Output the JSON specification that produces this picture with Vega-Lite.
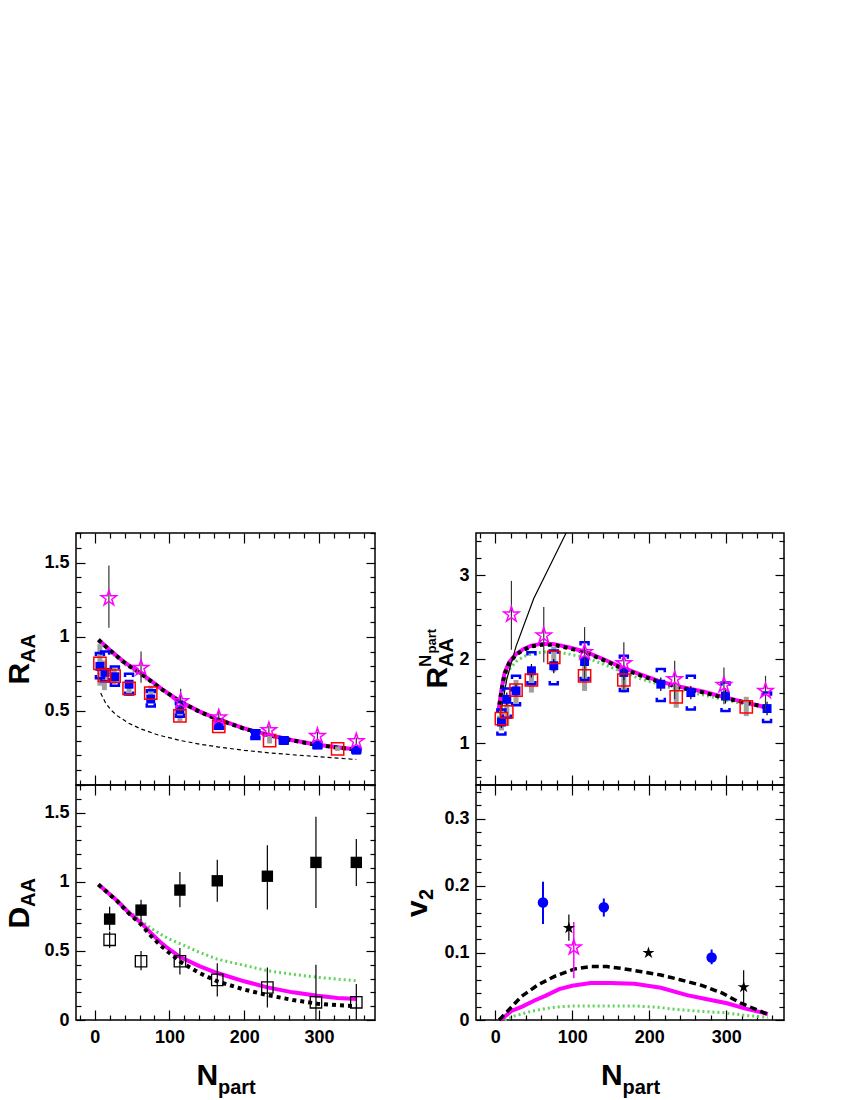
{
  "$schema": "https://vega.github.io/schema/vega-lite/v6.json",
  "padding": {"left": 3, "top": 523, "right": 10, "bottom": 0},
  "config": {
    "view": {"stroke": "#000000", "strokeWidth": 1.5},
    "axis": {
      "grid": false, "domain": false, "tickColor": "#000000", "tickWidth": 1.2,
      "labelFont": "Liberation Sans", "labelFontWeight": "bold", "labelFontSize": 18, "labelColor": "#000000",
      "titleFont": "Liberation Sans", "titleFontWeight": "bold", "titleColor": "#000000",
      "labelOverlap": false, "labelFlush": false, "labelBound": false
    },
    "text": {"font": "Liberation Sans"}
  },
  "datasets": {
    "a_curve": [
      {"s": "black", "n": 5, "v": 0.98}, {"s": "black", "n": 20, "v": 0.91}, {"s": "black", "n": 40, "v": 0.825}, {"s": "black", "n": 65, "v": 0.74}, {"s": "black", "n": 90, "v": 0.645}, {"s": "black", "n": 115, "v": 0.56}, {"s": "black", "n": 140, "v": 0.495}, {"s": "black", "n": 166, "v": 0.44}, {"s": "black", "n": 200, "v": 0.38}, {"s": "black", "n": 233, "v": 0.335}, {"s": "black", "n": 265, "v": 0.3}, {"s": "black", "n": 298, "v": 0.27}, {"s": "black", "n": 325, "v": 0.252}, {"s": "black", "n": 350, "v": 0.238},
      {"s": "magenta", "n": 5, "v": 0.98}, {"s": "magenta", "n": 20, "v": 0.912}, {"s": "magenta", "n": 40, "v": 0.827}, {"s": "magenta", "n": 65, "v": 0.742}, {"s": "magenta", "n": 90, "v": 0.647}, {"s": "magenta", "n": 115, "v": 0.562}, {"s": "magenta", "n": 140, "v": 0.497}, {"s": "magenta", "n": 166, "v": 0.442}, {"s": "magenta", "n": 200, "v": 0.382}, {"s": "magenta", "n": 233, "v": 0.337}, {"s": "magenta", "n": 265, "v": 0.302}, {"s": "magenta", "n": 298, "v": 0.272}, {"s": "magenta", "n": 325, "v": 0.254}, {"s": "magenta", "n": 350, "v": 0.24},
      {"s": "green", "n": 5, "v": 0.97}, {"s": "green", "n": 20, "v": 0.9}, {"s": "green", "n": 40, "v": 0.815}, {"s": "green", "n": 65, "v": 0.728}, {"s": "green", "n": 90, "v": 0.638}, {"s": "green", "n": 115, "v": 0.553}, {"s": "green", "n": 140, "v": 0.49}, {"s": "green", "n": 166, "v": 0.435}, {"s": "green", "n": 200, "v": 0.377}, {"s": "green", "n": 233, "v": 0.333}, {"s": "green", "n": 265, "v": 0.298}, {"s": "green", "n": 298, "v": 0.268}, {"s": "green", "n": 325, "v": 0.25}, {"s": "green", "n": 350, "v": 0.236},
      {"s": "thin", "n": 8, "v": 0.62}, {"s": "thin", "n": 15, "v": 0.55}, {"s": "thin", "n": 22, "v": 0.505}, {"s": "thin", "n": 30, "v": 0.468}, {"s": "thin", "n": 45, "v": 0.418}, {"s": "thin", "n": 62, "v": 0.378}, {"s": "thin", "n": 85, "v": 0.337}, {"s": "thin", "n": 115, "v": 0.3}, {"s": "thin", "n": 140, "v": 0.276}, {"s": "thin", "n": 166, "v": 0.256}, {"s": "thin", "n": 200, "v": 0.234}, {"s": "thin", "n": 233, "v": 0.217}, {"s": "thin", "n": 265, "v": 0.204}, {"s": "thin", "n": 298, "v": 0.192}, {"s": "thin", "n": 325, "v": 0.181}, {"s": "thin", "n": 350, "v": 0.172}
    ],
    "a_star": [
      {"n": 19, "v": 1.26, "lo": 1.06, "hi": 1.48}, {"n": 62, "v": 0.79, "lo": 0.69, "hi": 0.9}, {"n": 115, "v": 0.565, "lo": 0.49, "hi": 0.65}, {"n": 166, "v": 0.455, "lo": 0.41, "hi": 0.5}, {"n": 233, "v": 0.37, "lo": 0.34, "hi": 0.4}, {"n": 298, "v": 0.33, "lo": 0.3, "hi": 0.36}, {"n": 350, "v": 0.295, "lo": 0.27, "hi": 0.32}
    ],
    "a_red": [
      {"n": 7, "v": 0.82, "lo": 0.67, "hi": 0.95}, {"n": 13, "v": 0.74, "lo": 0.64, "hi": 0.84}, {"n": 26, "v": 0.735, "lo": 0.68, "hi": 0.79}, {"n": 46, "v": 0.652, "lo": 0.6, "hi": 0.7}, {"n": 75, "v": 0.62, "lo": 0.57, "hi": 0.67}, {"n": 114, "v": 0.466, "lo": 0.43, "hi": 0.5}, {"n": 166, "v": 0.395, "lo": 0.37, "hi": 0.42}, {"n": 234, "v": 0.3, "lo": 0.28, "hi": 0.33}, {"n": 325, "v": 0.243, "lo": 0.23, "hi": 0.26}
    ],
    "a_blue": [
      {"n": 7, "v": 0.8, "lo": 0.72, "hi": 0.89}, {"n": 14, "v": 0.76, "lo": 0.7, "hi": 0.9}, {"n": 27, "v": 0.73, "lo": 0.67, "hi": 0.8}, {"n": 46, "v": 0.68, "lo": 0.61, "hi": 0.75}, {"n": 75, "v": 0.58, "lo": 0.53, "hi": 0.64}, {"n": 114, "v": 0.51, "lo": 0.46, "hi": 0.56}, {"n": 166, "v": 0.41, "lo": 0.38, "hi": 0.44}, {"n": 215, "v": 0.34, "lo": 0.31, "hi": 0.37}, {"n": 253, "v": 0.3, "lo": 0.28, "hi": 0.32}, {"n": 298, "v": 0.27, "lo": 0.25, "hi": 0.29}, {"n": 350, "v": 0.235, "lo": 0.22, "hi": 0.25}
    ],
    "b_curve": [
      {"s": "black", "n": 4, "v": 1.36}, {"s": "black", "n": 8, "v": 1.62}, {"s": "black", "n": 12, "v": 1.82}, {"s": "black", "n": 18, "v": 1.95}, {"s": "black", "n": 27, "v": 2.05}, {"s": "black", "n": 37, "v": 2.11}, {"s": "black", "n": 47, "v": 2.15}, {"s": "black", "n": 60, "v": 2.17}, {"s": "black", "n": 75, "v": 2.17}, {"s": "black", "n": 95, "v": 2.13}, {"s": "black", "n": 116, "v": 2.08}, {"s": "black", "n": 140, "v": 1.99}, {"s": "black", "n": 167, "v": 1.88}, {"s": "black", "n": 190, "v": 1.8}, {"s": "black", "n": 215, "v": 1.72}, {"s": "black", "n": 240, "v": 1.66}, {"s": "black", "n": 271, "v": 1.6}, {"s": "black", "n": 300, "v": 1.53}, {"s": "black", "n": 326, "v": 1.48}, {"s": "black", "n": 354, "v": 1.42},
      {"s": "magenta", "n": 4, "v": 1.37}, {"s": "magenta", "n": 8, "v": 1.63}, {"s": "magenta", "n": 12, "v": 1.83}, {"s": "magenta", "n": 18, "v": 1.96}, {"s": "magenta", "n": 27, "v": 2.06}, {"s": "magenta", "n": 37, "v": 2.12}, {"s": "magenta", "n": 47, "v": 2.16}, {"s": "magenta", "n": 60, "v": 2.18}, {"s": "magenta", "n": 75, "v": 2.18}, {"s": "magenta", "n": 95, "v": 2.14}, {"s": "magenta", "n": 116, "v": 2.09}, {"s": "magenta", "n": 140, "v": 2.0}, {"s": "magenta", "n": 167, "v": 1.89}, {"s": "magenta", "n": 190, "v": 1.81}, {"s": "magenta", "n": 215, "v": 1.73}, {"s": "magenta", "n": 240, "v": 1.67}, {"s": "magenta", "n": 271, "v": 1.61}, {"s": "magenta", "n": 300, "v": 1.54}, {"s": "magenta", "n": 326, "v": 1.48}, {"s": "magenta", "n": 354, "v": 1.42},
      {"s": "green", "n": 4, "v": 1.3}, {"s": "green", "n": 8, "v": 1.55}, {"s": "green", "n": 12, "v": 1.74}, {"s": "green", "n": 18, "v": 1.87}, {"s": "green", "n": 27, "v": 1.97}, {"s": "green", "n": 37, "v": 2.03}, {"s": "green", "n": 47, "v": 2.06}, {"s": "green", "n": 60, "v": 2.08}, {"s": "green", "n": 75, "v": 2.09}, {"s": "green", "n": 95, "v": 2.06}, {"s": "green", "n": 116, "v": 2.02}, {"s": "green", "n": 140, "v": 1.94}, {"s": "green", "n": 167, "v": 1.84}, {"s": "green", "n": 190, "v": 1.76}, {"s": "green", "n": 215, "v": 1.69}, {"s": "green", "n": 240, "v": 1.63}, {"s": "green", "n": 271, "v": 1.57}, {"s": "green", "n": 300, "v": 1.51}, {"s": "green", "n": 326, "v": 1.46}, {"s": "green", "n": 354, "v": 1.42},
      {"s": "thin", "n": 6, "v": 1.25}, {"s": "thin", "n": 9, "v": 1.45}, {"s": "thin", "n": 15, "v": 1.76}, {"s": "thin", "n": 27, "v": 2.15}, {"s": "thin", "n": 50, "v": 2.72}, {"s": "thin", "n": 92, "v": 3.5}
    ],
    "b_star": [
      {"n": 21, "v": 2.53, "lo": 2.11, "hi": 2.93}, {"n": 63, "v": 2.28, "lo": 1.96, "hi": 2.62}, {"n": 116, "v": 2.08, "lo": 1.76, "hi": 2.38}, {"n": 167, "v": 1.95, "lo": 1.64, "hi": 2.2}, {"n": 233, "v": 1.76, "lo": 1.52, "hi": 1.98}, {"n": 297, "v": 1.69, "lo": 1.46, "hi": 1.9}, {"n": 351, "v": 1.62, "lo": 1.38, "hi": 1.8}
    ],
    "b_red": [
      {"n": 8, "v": 1.29, "lo": 1.15, "hi": 1.4}, {"n": 15, "v": 1.37, "lo": 1.2, "hi": 1.55}, {"n": 27, "v": 1.63, "lo": 1.45, "hi": 1.75}, {"n": 47, "v": 1.75, "lo": 1.6, "hi": 1.9}, {"n": 76, "v": 2.02, "lo": 1.85, "hi": 2.15}, {"n": 116, "v": 1.8, "lo": 1.62, "hi": 2.0}, {"n": 167, "v": 1.75, "lo": 1.6, "hi": 1.9}, {"n": 235, "v": 1.55, "lo": 1.42, "hi": 1.7}, {"n": 326, "v": 1.43, "lo": 1.32, "hi": 1.55}
    ],
    "b_blue": [
      {"n": 8, "v": 1.25, "lo": 1.1, "hi": 1.4, "elo": 1.18, "ehi": 1.32}, {"n": 15, "v": 1.52, "lo": 1.3, "hi": 1.65, "elo": 1.45, "ehi": 1.6}, {"n": 27, "v": 1.62, "lo": 1.45, "hi": 1.8, "elo": 1.55, "ehi": 1.7}, {"n": 47, "v": 1.86, "lo": 1.7, "hi": 2.08, "elo": 1.78, "ehi": 1.94}, {"n": 76, "v": 1.92, "lo": 1.7, "hi": 2.1, "elo": 1.83, "ehi": 2.0}, {"n": 116, "v": 1.97, "lo": 1.75, "hi": 2.2, "elo": 1.86, "ehi": 2.08}, {"n": 167, "v": 1.84, "lo": 1.62, "hi": 2.04, "elo": 1.75, "ehi": 1.93}, {"n": 215, "v": 1.7, "lo": 1.5, "hi": 1.88, "elo": 1.62, "ehi": 1.78}, {"n": 254, "v": 1.6, "lo": 1.4, "hi": 1.8, "elo": 1.52, "ehi": 1.68}, {"n": 299, "v": 1.56, "lo": 1.38, "hi": 1.72, "elo": 1.47, "ehi": 1.65}, {"n": 353, "v": 1.41, "lo": 1.25, "hi": 1.6, "elo": 1.33, "ehi": 1.49}
    ],
    "c_curve": [
      {"s": "magenta", "n": 5, "v": 0.98}, {"s": "magenta", "n": 30, "v": 0.863}, {"s": "magenta", "n": 45, "v": 0.78}, {"s": "magenta", "n": 61.5, "v": 0.706}, {"s": "magenta", "n": 75, "v": 0.63}, {"s": "magenta", "n": 88, "v": 0.562}, {"s": "magenta", "n": 100, "v": 0.51}, {"s": "magenta", "n": 115, "v": 0.453}, {"s": "magenta", "n": 140, "v": 0.39}, {"s": "magenta", "n": 164, "v": 0.34}, {"s": "magenta", "n": 200, "v": 0.28}, {"s": "magenta", "n": 231, "v": 0.236}, {"s": "magenta", "n": 265, "v": 0.2}, {"s": "magenta", "n": 298, "v": 0.176}, {"s": "magenta", "n": 325, "v": 0.16}, {"s": "magenta", "n": 351, "v": 0.152},
      {"s": "black", "n": 5, "v": 0.98}, {"s": "black", "n": 30, "v": 0.86}, {"s": "black", "n": 45, "v": 0.775}, {"s": "black", "n": 61.5, "v": 0.695}, {"s": "black", "n": 75, "v": 0.61}, {"s": "black", "n": 88, "v": 0.54}, {"s": "black", "n": 100, "v": 0.485}, {"s": "black", "n": 115, "v": 0.42}, {"s": "black", "n": 140, "v": 0.34}, {"s": "black", "n": 164, "v": 0.28}, {"s": "black", "n": 200, "v": 0.22}, {"s": "black", "n": 231, "v": 0.18}, {"s": "black", "n": 265, "v": 0.145}, {"s": "black", "n": 298, "v": 0.118}, {"s": "black", "n": 325, "v": 0.107}, {"s": "black", "n": 351, "v": 0.1},
      {"s": "green", "n": 5, "v": 0.98}, {"s": "green", "n": 30, "v": 0.87}, {"s": "green", "n": 45, "v": 0.79}, {"s": "green", "n": 61.5, "v": 0.72}, {"s": "green", "n": 75, "v": 0.665}, {"s": "green", "n": 88, "v": 0.62}, {"s": "green", "n": 100, "v": 0.585}, {"s": "green", "n": 115, "v": 0.55}, {"s": "green", "n": 140, "v": 0.49}, {"s": "green", "n": 164, "v": 0.44}, {"s": "green", "n": 200, "v": 0.395}, {"s": "green", "n": 231, "v": 0.357}, {"s": "green", "n": 265, "v": 0.33}, {"s": "green", "n": 298, "v": 0.309}, {"s": "green", "n": 325, "v": 0.295}, {"s": "green", "n": 351, "v": 0.284}
    ],
    "c_full": [
      {"n": 20, "v": 0.73, "lo": 0.65, "hi": 0.82}, {"n": 62, "v": 0.795, "lo": 0.72, "hi": 0.87}, {"n": 114, "v": 0.94, "lo": 0.815, "hi": 1.07}, {"n": 164, "v": 1.007, "lo": 0.855, "hi": 1.16}, {"n": 231, "v": 1.04, "lo": 0.8, "hi": 1.265}, {"n": 296, "v": 1.14, "lo": 0.81, "hi": 1.47}, {"n": 350, "v": 1.14, "lo": 0.97, "hi": 1.31}
    ],
    "c_open": [
      {"n": 20, "v": 0.58, "lo": 0.52, "hi": 0.64}, {"n": 62, "v": 0.425, "lo": 0.36, "hi": 0.5}, {"n": 114, "v": 0.425, "lo": 0.33, "hi": 0.52}, {"n": 164, "v": 0.29, "lo": 0.17, "hi": 0.41}, {"n": 231, "v": 0.235, "lo": 0.09, "hi": 0.38}, {"n": 296, "v": 0.128, "lo": 0.0, "hi": 0.4}, {"n": 350, "v": 0.128, "lo": 0.0, "hi": 0.26}
    ],
    "d_curve": [
      {"s": "black", "n": 5, "v": 0}, {"s": "black", "n": 15, "v": 0.012}, {"s": "black", "n": 34, "v": 0.035}, {"s": "black", "n": 55, "v": 0.052}, {"s": "black", "n": 77, "v": 0.065}, {"s": "black", "n": 103, "v": 0.076}, {"s": "black", "n": 124, "v": 0.0795}, {"s": "black", "n": 145, "v": 0.0795}, {"s": "black", "n": 163, "v": 0.077}, {"s": "black", "n": 190, "v": 0.072}, {"s": "black", "n": 215, "v": 0.067}, {"s": "black", "n": 240, "v": 0.06}, {"s": "black", "n": 267, "v": 0.052}, {"s": "black", "n": 295, "v": 0.04}, {"s": "black", "n": 319, "v": 0.025}, {"s": "black", "n": 354, "v": 0.0085},
      {"s": "magenta", "n": 7, "v": 0}, {"s": "magenta", "n": 21, "v": 0.0135}, {"s": "magenta", "n": 35, "v": 0.02}, {"s": "magenta", "n": 51, "v": 0.029}, {"s": "magenta", "n": 65, "v": 0.036}, {"s": "magenta", "n": 83, "v": 0.046}, {"s": "magenta", "n": 100, "v": 0.051}, {"s": "magenta", "n": 124, "v": 0.055}, {"s": "magenta", "n": 150, "v": 0.055}, {"s": "magenta", "n": 181, "v": 0.054}, {"s": "magenta", "n": 215, "v": 0.048}, {"s": "magenta", "n": 249, "v": 0.037}, {"s": "magenta", "n": 275, "v": 0.031}, {"s": "magenta", "n": 301, "v": 0.025}, {"s": "magenta", "n": 325, "v": 0.017}, {"s": "magenta", "n": 354, "v": 0.009},
      {"s": "green", "n": 12, "v": 0}, {"s": "green", "n": 25, "v": 0.006}, {"s": "green", "n": 47, "v": 0.013}, {"s": "green", "n": 65, "v": 0.017}, {"s": "green", "n": 85, "v": 0.02}, {"s": "green", "n": 105, "v": 0.021}, {"s": "green", "n": 128, "v": 0.021}, {"s": "green", "n": 155, "v": 0.021}, {"s": "green", "n": 181, "v": 0.021}, {"s": "green", "n": 210, "v": 0.019}, {"s": "green", "n": 233, "v": 0.016}, {"s": "green", "n": 265, "v": 0.013}, {"s": "green", "n": 295, "v": 0.011}, {"s": "green", "n": 325, "v": 0.007}, {"s": "green", "n": 354, "v": 0.004}
    ],
    "d_blue": [
      {"n": 62, "v": 0.175, "lo": 0.143, "hi": 0.206}, {"n": 141, "v": 0.168, "lo": 0.154, "hi": 0.181}, {"n": 281, "v": 0.093, "lo": 0.083, "hi": 0.105}
    ],
    "d_bstar": [
      {"n": 95.6, "v": 0.137, "lo": 0.118, "hi": 0.157}, {"n": 199, "v": 0.1, "lo": 0.097, "hi": 0.103}, {"n": 322.6, "v": 0.049, "lo": 0.023, "hi": 0.074}
    ],
    "d_mstar": [
      {"n": 102, "v": 0.108, "lo": 0.062, "hi": 0.146}
    ]
  },
  "columns": 2,
  "bounds": "flush",
  "spacing": {"row": 0, "column": 101},
  "concat": [
    {
      "width": 299, "height": 252,
      "resolve": {"axis": {"x": "independent", "y": "independent"}},
      "layer": [
        {
          "data": {"name": "a_curve"}, "transform": [{"filter": "datum.s === 'green'"}],
          "mark": {"type": "line", "color": "#5fd35a", "strokeWidth": 3, "strokeDash": [2, 3]},
          "encoding": {
            "x": {"field": "n", "type": "quantitative", "scale": {"domain": [-25, 375], "nice": false, "zero": false},
              "axis": {"orient": "bottom", "values": [-20, 0, 20, 40, 60, 80, 100, 120, 140, 160, 180, 200, 220, 240, 260, 280, 300, 320, 340, 360], "labels": false, "title": null, "tickSize": {"condition": {"test": "datum.value % 100 === 0", "value": -10}, "value": -5}}},
            "y": {"field": "v", "type": "quantitative", "scale": {"domain": [0, 1.7], "nice": false, "zero": false},
              "axis": {"orient": "left", "values": [0, 0.1, 0.2, 0.3, 0.4, 0.5, 0.6, 0.7, 0.8, 0.9, 1, 1.1, 1.2, 1.3, 1.4, 1.5, 1.6, 1.7], "tickSize": {"condition": {"test": "abs(datum.value*2-round(datum.value*2))<0.001", "value": -9}, "value": -5}, "labelPadding": 16, "labelExpr": "abs(datum.value*2-round(datum.value*2))<0.001 && datum.value>0 ? format(datum.value,'') : ''", "title": "R", "titleFontSize": 30, "titleAngle": 270, "titleAlign": "left", "titleBaseline": "alphabetic", "titleX": -48, "titleY": 151}}
          }
        },
        {
          "data": {"name": "a_curve"}, "transform": [{"filter": "datum.s === 'magenta'"}],
          "mark": {"type": "line", "color": "#ff00ff", "strokeWidth": 4},
          "encoding": {
            "x": {"field": "n", "type": "quantitative", "axis": {"orient": "top", "values": [-20, 0, 20, 40, 60, 80, 100, 120, 140, 160, 180, 200, 220, 240, 260, 280, 300, 320, 340, 360], "labels": false, "title": null, "tickSize": {"condition": {"test": "datum.value % 100 === 0", "value": -10}, "value": -5}}},
            "y": {"field": "v", "type": "quantitative", "axis": {"orient": "right", "values": [0, 0.1, 0.2, 0.3, 0.4, 0.5, 0.6, 0.7, 0.8, 0.9, 1, 1.1, 1.2, 1.3, 1.4, 1.5, 1.6, 1.7], "labels": false, "title": null, "tickSize": {"condition": {"test": "abs(datum.value*2-round(datum.value*2))<0.001", "value": -9}, "value": -5}}}
          }
        },
        {
          "data": {"name": "a_curve"}, "transform": [{"filter": "datum.s === 'black'"}],
          "mark": {"type": "line", "color": "#000000", "strokeWidth": 4, "strokeDash": [4, 4]},
          "encoding": {
            "x": {"field": "n", "type": "quantitative", "axis": null},
            "y": {"field": "v", "type": "quantitative", "axis": {"orient": "left", "ticks": false, "labels": false, "title": "AA", "titleFontSize": 20, "titleAngle": 270, "titleAlign": "left", "titleBaseline": "alphabetic", "titleX": -42, "titleY": 129.5}}
          }
        },
        {
          "data": {"name": "a_curve"}, "transform": [{"filter": "datum.s === 'thin'"}],
          "mark": {"type": "line", "color": "#000000", "strokeWidth": 1.2, "strokeDash": [4, 3]},
          "encoding": {"x": {"field": "n", "type": "quantitative", "axis": null}, "y": {"field": "v", "type": "quantitative", "axis": null}}
        },
        {
          "mark": {"type": "rule", "color": "#000000", "strokeWidth": 1.2},
          "encoding": {"y": {"datum": 1, "type": "quantitative", "axis": null}}
        },
        {
          "data": {"name": "a_red"},
          "mark": {"type": "rule", "color": "#a0a0a0", "strokeWidth": 5},
          "encoding": {"x": {"field": "n", "type": "quantitative", "axis": null}, "y": {"field": "lo", "type": "quantitative", "axis": null}, "y2": {"field": "hi"}}
        },
        {
          "data": {"name": "a_blue"},
          "mark": {"type": "point", "shape": "M-1,0.8L-1,0L1,0L1,0.8", "filled": false, "color": "#0000ff", "strokeWidth": 2.5, "size": 64, "opacity": 1},
          "encoding": {"x": {"field": "n", "type": "quantitative", "axis": null}, "y": {"field": "hi", "type": "quantitative", "axis": null}}
        },
        {
          "data": {"name": "a_blue"},
          "mark": {"type": "point", "shape": "M-1,-0.8L-1,0L1,0L1,-0.8", "filled": false, "color": "#0000ff", "strokeWidth": 2.5, "size": 64, "opacity": 1},
          "encoding": {"x": {"field": "n", "type": "quantitative", "axis": null}, "y": {"field": "lo", "type": "quantitative", "axis": null}}
        },
        {
          "data": {"name": "a_blue"},
          "mark": {"type": "point", "shape": "square", "filled": true, "color": "#0000ff", "size": 80, "opacity": 1},
          "encoding": {"x": {"field": "n", "type": "quantitative", "axis": null}, "y": {"field": "v", "type": "quantitative", "axis": null}}
        },
        {
          "data": {"name": "a_star"},
          "mark": {"type": "rule", "color": "#333333", "strokeWidth": 1.2},
          "encoding": {"x": {"field": "n", "type": "quantitative", "axis": null}, "y": {"field": "lo", "type": "quantitative", "axis": null}, "y2": {"field": "hi"}}
        },
        {
          "data": {"name": "a_red"},
          "mark": {"type": "point", "shape": "square", "filled": false, "color": "#ff0000", "strokeWidth": 1.5, "size": 150, "opacity": 1},
          "encoding": {"x": {"field": "n", "type": "quantitative", "axis": null}, "y": {"field": "v", "type": "quantitative", "axis": null}}
        },
        {
          "data": {"name": "a_star"},
          "mark": {"type": "point", "shape": "M0,-1L0.225,-0.309L0.951,-0.309L0.363,0.118L0.588,0.809L0,0.382L-0.588,0.809L-0.363,0.118L-0.951,-0.309L-0.225,-0.309Z", "filled": false, "color": "#ff00ff", "strokeWidth": 1.5, "size": 260, "opacity": 1},
          "encoding": {"x": {"field": "n", "type": "quantitative", "axis": null}, "y": {"field": "v", "type": "quantitative", "axis": null}}
        },
        {
          "mark": {"type": "text", "text": "a)", "font": "Liberation Sans", "fontSize": 26, "fontWeight": "bold", "align": "left", "baseline": "middle", "color": "#000000"},
          "encoding": {"x": {"datum": -3.6, "type": "quantitative", "axis": null}, "y": {"datum": 1.59, "type": "quantitative", "axis": null}}
        }
      ]
    },
    {
      "width": 308, "height": 252,
      "resolve": {"axis": {"x": "independent", "y": "independent"}},
      "layer": [
        {
          "data": {"name": "b_curve"}, "transform": [{"filter": "datum.s === 'green'"}],
          "mark": {"type": "line", "color": "#5fd35a", "strokeWidth": 3, "strokeDash": [2, 3]},
          "encoding": {
            "x": {"field": "n", "type": "quantitative", "scale": {"domain": [-25, 375], "nice": false, "zero": false},
              "axis": {"orient": "bottom", "values": [-20, 0, 20, 40, 60, 80, 100, 120, 140, 160, 180, 200, 220, 240, 260, 280, 300, 320, 340, 360], "labels": false, "title": null, "tickSize": {"condition": {"test": "datum.value % 100 === 0", "value": -10}, "value": -5}}},
            "y": {"field": "v", "type": "quantitative", "scale": {"domain": [0.5, 3.5], "nice": false, "zero": false},
              "axis": {"orient": "left", "values": [0.6, 0.8, 1, 1.2, 1.4, 1.6, 1.8, 2, 2.2, 2.4, 2.6, 2.8, 3, 3.2, 3.4], "tickSize": {"condition": {"test": "abs(datum.value-round(datum.value))<0.001", "value": -9}, "value": -5}, "labelPadding": 16, "labelExpr": "abs(datum.value-round(datum.value))<0.001 ? format(datum.value,'') : ''", "title": "R", "titleFontSize": 30, "titleAngle": 270, "titleAlign": "left", "titleBaseline": "alphabetic", "titleX": -30, "titleY": 155}}
          }
        },
        {
          "data": {"name": "b_curve"}, "transform": [{"filter": "datum.s === 'magenta'"}],
          "mark": {"type": "line", "color": "#ff00ff", "strokeWidth": 4},
          "encoding": {
            "x": {"field": "n", "type": "quantitative", "axis": {"orient": "top", "values": [-20, 0, 20, 40, 60, 80, 100, 120, 140, 160, 180, 200, 220, 240, 260, 280, 300, 320, 340, 360], "labels": false, "title": null, "tickSize": {"condition": {"test": "datum.value % 100 === 0", "value": -10}, "value": -5}}},
            "y": {"field": "v", "type": "quantitative", "axis": {"orient": "right", "values": [0.6, 0.8, 1, 1.2, 1.4, 1.6, 1.8, 2, 2.2, 2.4, 2.6, 2.8, 3, 3.2, 3.4], "labels": false, "title": null, "tickSize": {"condition": {"test": "abs(datum.value-round(datum.value))<0.001", "value": -9}, "value": -5}}}
          }
        },
        {
          "data": {"name": "b_curve"}, "transform": [{"filter": "datum.s === 'black'"}],
          "mark": {"type": "line", "color": "#000000", "strokeWidth": 4, "strokeDash": [4, 4]},
          "encoding": {
            "x": {"field": "n", "type": "quantitative", "axis": null},
            "y": {"field": "v", "type": "quantitative", "axis": {"orient": "left", "ticks": false, "labels": false, "title": "AA", "titleFontSize": 20, "titleAngle": 270, "titleAlign": "left", "titleBaseline": "alphabetic", "titleX": -24, "titleY": 133.5}}
          }
        },
        {
          "data": {"name": "b_curve"}, "transform": [{"filter": "datum.s === 'thin'"}],
          "mark": {"type": "line", "color": "#000000", "strokeWidth": 1.2},
          "encoding": {"x": {"field": "n", "type": "quantitative", "axis": null}, "y": {"field": "v", "type": "quantitative", "axis": null}}
        },
        {
          "mark": {"type": "rule", "color": "#000000", "strokeWidth": 1.2, "strokeDash": [5, 3]},
          "encoding": {"y": {"datum": 1, "type": "quantitative", "axis": null}}
        },
        {
          "data": {"name": "b_red"},
          "mark": {"type": "rule", "color": "#a0a0a0", "strokeWidth": 5},
          "encoding": {"x": {"field": "n", "type": "quantitative", "axis": null}, "y": {"field": "lo", "type": "quantitative", "axis": null}, "y2": {"field": "hi"}}
        },
        {
          "data": {"name": "b_blue"},
          "mark": {"type": "point", "shape": "M-1,0.8L-1,0L1,0L1,0.8", "filled": false, "color": "#0000ff", "strokeWidth": 2.5, "size": 64, "opacity": 1},
          "encoding": {"x": {"field": "n", "type": "quantitative", "axis": null}, "y": {"field": "hi", "type": "quantitative", "axis": null}}
        },
        {
          "data": {"name": "b_blue"},
          "mark": {"type": "point", "shape": "M-1,-0.8L-1,0L1,0L1,-0.8", "filled": false, "color": "#0000ff", "strokeWidth": 2.5, "size": 64, "opacity": 1},
          "encoding": {"x": {"field": "n", "type": "quantitative", "axis": null}, "y": {"field": "lo", "type": "quantitative", "axis": null}}
        },
        {
          "data": {"name": "b_blue"},
          "mark": {"type": "rule", "color": "#000000", "strokeWidth": 1.2},
          "encoding": {"x": {"field": "n", "type": "quantitative", "axis": null}, "y": {"field": "elo", "type": "quantitative", "axis": null}, "y2": {"field": "ehi"}}
        },
        {
          "data": {"name": "b_blue"},
          "mark": {"type": "point", "shape": "square", "filled": true, "color": "#0000ff", "size": 80, "opacity": 1},
          "encoding": {
            "x": {"field": "n", "type": "quantitative", "axis": null},
            "y": {"field": "v", "type": "quantitative", "axis": {"orient": "left", "ticks": false, "labels": false, "title": "N", "titleFontSize": 17, "titleAngle": 270, "titleAlign": "left", "titleBaseline": "alphabetic", "titleX": -46, "titleY": 133.5}}
          }
        },
        {
          "data": {"name": "b_star"},
          "mark": {"type": "rule", "color": "#333333", "strokeWidth": 1.2},
          "encoding": {"x": {"field": "n", "type": "quantitative", "axis": null}, "y": {"field": "lo", "type": "quantitative", "axis": null}, "y2": {"field": "hi"}}
        },
        {
          "data": {"name": "b_red"},
          "mark": {"type": "point", "shape": "square", "filled": false, "color": "#ff0000", "strokeWidth": 1.5, "size": 150, "opacity": 1},
          "encoding": {
            "x": {"field": "n", "type": "quantitative", "axis": null},
            "y": {"field": "v", "type": "quantitative", "axis": {"orient": "left", "ticks": false, "labels": false, "title": "part", "titleFontSize": 13, "titleAngle": 270, "titleAlign": "left", "titleBaseline": "alphabetic", "titleX": -41, "titleY": 120}}
          }
        },
        {
          "data": {"name": "b_star"},
          "mark": {"type": "point", "shape": "M0,-1L0.225,-0.309L0.951,-0.309L0.363,0.118L0.588,0.809L0,0.382L-0.588,0.809L-0.363,0.118L-0.951,-0.309L-0.225,-0.309Z", "filled": false, "color": "#ff00ff", "strokeWidth": 1.5, "size": 260, "opacity": 1},
          "encoding": {"x": {"field": "n", "type": "quantitative", "axis": null}, "y": {"field": "v", "type": "quantitative", "axis": null}}
        },
        {
          "mark": {"type": "text", "text": "b)", "font": "Liberation Sans", "fontSize": 26, "fontWeight": "bold", "align": "left", "baseline": "middle", "color": "#000000"},
          "encoding": {"x": {"datum": -2.9, "type": "quantitative", "axis": null}, "y": {"datum": 3.23, "type": "quantitative", "axis": null}}
        }
      ]
    },
    {
      "width": 299, "height": 235,
      "resolve": {"axis": {"x": "independent", "y": "independent"}},
      "layer": [
        {
          "data": {"name": "c_curve"}, "transform": [{"filter": "datum.s === 'green'"}],
          "mark": {"type": "line", "color": "#5fd35a", "strokeWidth": 3, "strokeDash": [2, 3]},
          "encoding": {
            "x": {"field": "n", "type": "quantitative", "scale": {"domain": [-25, 375], "nice": false, "zero": false},
              "axis": {"orient": "bottom", "values": [-20, 0, 20, 40, 60, 80, 100, 120, 140, 160, 180, 200, 220, 240, 260, 280, 300, 320, 340, 360], "tickSize": {"condition": {"test": "datum.value % 100 === 0", "value": -10}, "value": -5}, "labelPadding": 18, "labelExpr": "datum.value % 100 === 0 ? datum.label : ''", "title": "N", "titleFontSize": 30, "titleAngle": 0, "titleAlign": "left", "titleBaseline": "alphabetic", "titleX": 120, "titleY": 64}},
            "y": {"field": "v", "type": "quantitative", "scale": {"domain": [0, 1.7], "nice": false, "zero": false},
              "axis": {"orient": "left", "values": [0, 0.1, 0.2, 0.3, 0.4, 0.5, 0.6, 0.7, 0.8, 0.9, 1, 1.1, 1.2, 1.3, 1.4, 1.5, 1.6, 1.7], "tickSize": {"condition": {"test": "abs(datum.value*2-round(datum.value*2))<0.001", "value": -9}, "value": -5}, "labelPadding": 16, "labelExpr": "abs(datum.value*2-round(datum.value*2))<0.001 ? format(datum.value,'') : ''", "title": "D", "titleFontSize": 30, "titleAngle": 270, "titleAlign": "left", "titleBaseline": "alphabetic", "titleX": -48, "titleY": 143}}
          }
        },
        {
          "data": {"name": "c_curve"}, "transform": [{"filter": "datum.s === 'magenta'"}],
          "mark": {"type": "line", "color": "#ff00ff", "strokeWidth": 4},
          "encoding": {
            "x": {"field": "n", "type": "quantitative", "axis": {"orient": "top", "values": [-20, 0, 20, 40, 60, 80, 100, 120, 140, 160, 180, 200, 220, 240, 260, 280, 300, 320, 340, 360], "labels": false, "title": null, "tickSize": {"condition": {"test": "datum.value % 100 === 0", "value": -10}, "value": -5}}},
            "y": {"field": "v", "type": "quantitative", "axis": {"orient": "right", "values": [0, 0.1, 0.2, 0.3, 0.4, 0.5, 0.6, 0.7, 0.8, 0.9, 1, 1.1, 1.2, 1.3, 1.4, 1.5, 1.6, 1.7], "labels": false, "title": null, "tickSize": {"condition": {"test": "abs(datum.value*2-round(datum.value*2))<0.001", "value": -9}, "value": -5}}}
          }
        },
        {
          "data": {"name": "c_curve"}, "transform": [{"filter": "datum.s === 'black'"}],
          "mark": {"type": "line", "color": "#000000", "strokeWidth": 4, "strokeDash": [4, 4]},
          "encoding": {
            "x": {"field": "n", "type": "quantitative", "axis": {"orient": "bottom", "ticks": false, "labels": false, "title": "part", "titleFontSize": 20, "titleAngle": 0, "titleAlign": "left", "titleBaseline": "alphabetic", "titleX": 141.5, "titleY": 73}},
            "y": {"field": "v", "type": "quantitative", "axis": {"orient": "left", "ticks": false, "labels": false, "title": "AA", "titleFontSize": 20, "titleAngle": 270, "titleAlign": "left", "titleBaseline": "alphabetic", "titleX": -42, "titleY": 121.5}}
          }
        },
        {
          "mark": {"type": "rule", "color": "#000000", "strokeWidth": 1.2, "strokeDash": [5, 3]},
          "encoding": {"y": {"datum": 1, "type": "quantitative", "axis": null}}
        },
        {
          "data": {"name": "c_full"},
          "mark": {"type": "rule", "color": "#000000", "strokeWidth": 1.2},
          "encoding": {"x": {"field": "n", "type": "quantitative", "axis": null}, "y": {"field": "lo", "type": "quantitative", "axis": null}, "y2": {"field": "hi"}}
        },
        {
          "data": {"name": "c_open"},
          "mark": {"type": "rule", "color": "#000000", "strokeWidth": 1.2},
          "encoding": {"x": {"field": "n", "type": "quantitative", "axis": null}, "y": {"field": "lo", "type": "quantitative", "axis": null}, "y2": {"field": "hi"}}
        },
        {
          "data": {"name": "c_full"},
          "mark": {"type": "point", "shape": "square", "filled": true, "color": "#000000", "size": 130, "opacity": 1},
          "encoding": {"x": {"field": "n", "type": "quantitative", "axis": null}, "y": {"field": "v", "type": "quantitative", "axis": null}}
        },
        {
          "data": {"name": "c_open"},
          "mark": {"type": "point", "shape": "square", "filled": false, "color": "#000000", "strokeWidth": 1.3, "size": 130, "opacity": 1},
          "encoding": {"x": {"field": "n", "type": "quantitative", "axis": null}, "y": {"field": "v", "type": "quantitative", "axis": null}}
        },
        {
          "mark": {"type": "text", "text": "c)", "font": "Liberation Sans", "fontSize": 26, "fontWeight": "bold", "align": "left", "baseline": "middle", "color": "#000000"},
          "encoding": {"x": {"datum": -3.6, "type": "quantitative", "axis": null}, "y": {"datum": 1.49, "type": "quantitative", "axis": null}}
        }
      ]
    },
    {
      "width": 308, "height": 235,
      "resolve": {"axis": {"x": "independent", "y": "independent"}},
      "layer": [
        {
          "data": {"name": "d_curve"}, "transform": [{"filter": "datum.s === 'green'"}],
          "mark": {"type": "line", "color": "#5fd35a", "strokeWidth": 3, "strokeDash": [2, 3]},
          "encoding": {
            "x": {"field": "n", "type": "quantitative", "scale": {"domain": [-25, 375], "nice": false, "zero": false},
              "axis": {"orient": "bottom", "values": [-20, 0, 20, 40, 60, 80, 100, 120, 140, 160, 180, 200, 220, 240, 260, 280, 300, 320, 340, 360], "tickSize": {"condition": {"test": "datum.value % 100 === 0", "value": -10}, "value": -5}, "labelPadding": 18, "labelExpr": "datum.value % 100 === 0 ? datum.label : ''", "title": "N", "titleFontSize": 30, "titleAngle": 0, "titleAlign": "left", "titleBaseline": "alphabetic", "titleX": 124.5, "titleY": 64}},
            "y": {"field": "v", "type": "quantitative", "scale": {"domain": [0, 0.35], "nice": false, "zero": false},
              "axis": {"orient": "left", "values": [0, 0.02, 0.04, 0.06, 0.08, 0.1, 0.12, 0.14, 0.16, 0.18, 0.2, 0.22, 0.24, 0.26, 0.28, 0.3, 0.32, 0.34], "tickSize": {"condition": {"test": "abs(datum.value*10-round(datum.value*10))<0.001", "value": -9}, "value": -5}, "labelPadding": 16, "labelExpr": "abs(datum.value*10-round(datum.value*10))<0.001 ? format(datum.value,'') : ''", "title": "v", "titleFontSize": 30, "titleAngle": 270, "titleAlign": "left", "titleBaseline": "alphabetic", "titleX": -50, "titleY": 131.5}}
          }
        },
        {
          "data": {"name": "d_curve"}, "transform": [{"filter": "datum.s === 'magenta'"}],
          "mark": {"type": "line", "color": "#ff00ff", "strokeWidth": 4},
          "encoding": {
            "x": {"field": "n", "type": "quantitative", "axis": {"orient": "top", "values": [-20, 0, 20, 40, 60, 80, 100, 120, 140, 160, 180, 200, 220, 240, 260, 280, 300, 320, 340, 360], "labels": false, "title": null, "tickSize": {"condition": {"test": "datum.value % 100 === 0", "value": -10}, "value": -5}}},
            "y": {"field": "v", "type": "quantitative", "axis": {"orient": "right", "values": [0, 0.02, 0.04, 0.06, 0.08, 0.1, 0.12, 0.14, 0.16, 0.18, 0.2, 0.22, 0.24, 0.26, 0.28, 0.3, 0.32, 0.34], "labels": false, "title": null, "tickSize": {"condition": {"test": "abs(datum.value*10-round(datum.value*10))<0.001", "value": -9}, "value": -5}}}
          }
        },
        {
          "data": {"name": "d_curve"}, "transform": [{"filter": "datum.s === 'black'"}],
          "mark": {"type": "line", "color": "#000000", "strokeWidth": 3.5, "strokeDash": [7, 4]},
          "encoding": {
            "x": {"field": "n", "type": "quantitative", "axis": {"orient": "bottom", "ticks": false, "labels": false, "title": "part", "titleFontSize": 20, "titleAngle": 0, "titleAlign": "left", "titleBaseline": "alphabetic", "titleX": 146, "titleY": 73}},
            "y": {"field": "v", "type": "quantitative", "axis": {"orient": "left", "ticks": false, "labels": false, "title": "2", "titleFontSize": 20, "titleAngle": 270, "titleAlign": "left", "titleBaseline": "alphabetic", "titleX": -44, "titleY": 114.5}}
          }
        },
        {
          "data": {"name": "d_blue"},
          "mark": {"type": "rule", "color": "#0000ff", "strokeWidth": 2},
          "encoding": {"x": {"field": "n", "type": "quantitative", "axis": null}, "y": {"field": "lo", "type": "quantitative", "axis": null}, "y2": {"field": "hi"}}
        },
        {
          "data": {"name": "d_bstar"},
          "mark": {"type": "rule", "color": "#000000", "strokeWidth": 1.2},
          "encoding": {"x": {"field": "n", "type": "quantitative", "axis": null}, "y": {"field": "lo", "type": "quantitative", "axis": null}, "y2": {"field": "hi"}}
        },
        {
          "data": {"name": "d_mstar"},
          "mark": {"type": "rule", "color": "#ff00ff", "strokeWidth": 1.5},
          "encoding": {"x": {"field": "n", "type": "quantitative", "axis": null}, "y": {"field": "lo", "type": "quantitative", "axis": null}, "y2": {"field": "hi"}}
        },
        {
          "data": {"name": "d_blue"},
          "mark": {"type": "point", "shape": "circle", "filled": true, "color": "#0000ff", "size": 110, "opacity": 1},
          "encoding": {"x": {"field": "n", "type": "quantitative", "axis": null}, "y": {"field": "v", "type": "quantitative", "axis": null}}
        },
        {
          "data": {"name": "d_bstar"},
          "mark": {"type": "point", "shape": "M0,-1L0.225,-0.309L0.951,-0.309L0.363,0.118L0.588,0.809L0,0.382L-0.588,0.809L-0.363,0.118L-0.951,-0.309L-0.225,-0.309Z", "filled": true, "color": "#000000", "size": 160, "opacity": 1},
          "encoding": {"x": {"field": "n", "type": "quantitative", "axis": null}, "y": {"field": "v", "type": "quantitative", "axis": null}}
        },
        {
          "data": {"name": "d_mstar"},
          "mark": {"type": "point", "shape": "M0,-1L0.225,-0.309L0.951,-0.309L0.363,0.118L0.588,0.809L0,0.382L-0.588,0.809L-0.363,0.118L-0.951,-0.309L-0.225,-0.309Z", "filled": false, "color": "#ff00ff", "strokeWidth": 1.5, "size": 240, "opacity": 1},
          "encoding": {"x": {"field": "n", "type": "quantitative", "axis": null}, "y": {"field": "v", "type": "quantitative", "axis": null}}
        },
        {
          "mark": {"type": "text", "text": "d)", "font": "Liberation Sans", "fontSize": 26, "fontWeight": "bold", "align": "left", "baseline": "middle", "color": "#000000"},
          "encoding": {"x": {"datum": -4.2, "type": "quantitative", "axis": null}, "y": {"datum": 0.292, "type": "quantitative", "axis": null}}
        }
      ]
    }
  ]
}
